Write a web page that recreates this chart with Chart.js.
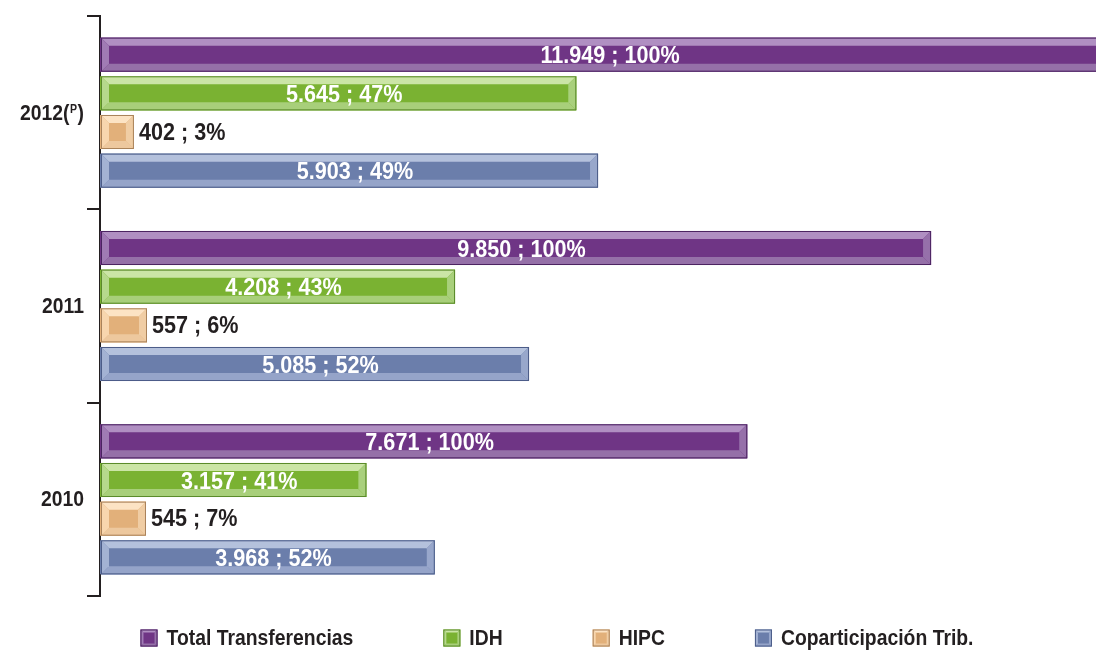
<!DOCTYPE html>
<html>
<head>
<meta charset="utf-8">
<script src="https://cdn.jsdelivr.net/npm/chart.js@4/dist/chart.umd.min.js"></script>
<style>
  html, body { margin: 0; padding: 0; background: #fff; }
  #wrap { width: 1096px; height: 651px; }
</style>
</head>
<body>
<div id="wrap"><canvas id="myChart" width="1096" height="651"></canvas></div>
<script>
const categories = ['2012(ᴾ)', '2011', '2010'];
const seriesNames = ['Total Transferencias', 'IDH', 'HIPC', 'Coparticipación Trib.'];
const totalTransferencias = [11949, 9850, 7671];
const idh = [5645, 4208, 3157];
const hipc = [402, 557, 545];
const coparticipacion = [5903, 5085, 3968];

const FONT = '"Liberation Sans", Arial, sans-serif';
const INK = '#231F20';

// bevel shades per series: face, top, left, bottom, right, edge
const shades = [
  { face: '#6F3585', top: '#B08FC2', left: '#A07BB4', bottom: '#9570A8', right: '#9670AA', edge: '#4B2361' },
  { face: '#7AB232', top: '#CBE5A6', left: '#B6D98C', bottom: '#A8CF7A', right: '#A9D07C', edge: '#5A8A2A' },
  { face: '#E2B07A', top: '#FCE3C4', left: '#F8D6AE', bottom: '#EDC89E', right: '#F0CDA4', edge: '#A9825A' },
  { face: '#6B7EAB', top: '#B4C1DC', left: '#A3B2D3', bottom: '#95A4C9', right: '#98A7CB', edge: '#4B5C88' },
];

const fmt = v => v.toLocaleString('de-DE');

// condensed look: draw text squeezed horizontally
function squeezed(ctx, s, x, y, align, sx) {
  ctx.save();
  ctx.translate(x, y);
  ctx.scale(sx, 1);
  ctx.textAlign = align;
  ctx.fillText(s, 0, 0);
  ctx.restore();
}

function poly(ctx, pts, color) {
  ctx.beginPath();
  ctx.moveTo(pts[0][0], pts[0][1]);
  for (let i = 1; i < pts.length; i++) ctx.lineTo(pts[i][0], pts[i][1]);
  ctx.closePath();
  ctx.fillStyle = color;
  ctx.fill();
}

function bevel(ctx, x0, y0, x1, y1, c, size) {
  const b = Math.min(size, (x1 - x0) / 2, (y1 - y0) / 2);
  ctx.fillStyle = c.face;
  ctx.fillRect(x0, y0, x1 - x0, y1 - y0);
  poly(ctx, [[x0, y0], [x1, y0], [x1 - b, y0 + b], [x0 + b, y0 + b]], c.top);
  poly(ctx, [[x0, y1], [x1, y1], [x1 - b, y1 - b], [x0 + b, y1 - b]], c.bottom);
  poly(ctx, [[x0, y0], [x0 + b, y0 + b], [x0 + b, y1 - b], [x0, y1]], c.left);
  poly(ctx, [[x1, y0], [x1 - b, y0 + b], [x1 - b, y1 - b], [x1, y1]], c.right);
  ctx.strokeStyle = c.edge;
  ctx.lineWidth = 1;
  ctx.strokeRect(x0 + 0.5, y0 + 0.5, x1 - x0 - 1, y1 - y0 - 1);
}

const bevelBars = {
  id: 'bevelBars',
  afterDatasetsDraw(chart) {
    const { ctx, chartArea } = chart;
    ctx.save();
    ctx.beginPath();
    ctx.rect(chartArea.left, chartArea.top - 2, chartArea.width, chartArea.height + 4);
    ctx.clip();
    chart.data.datasets.forEach((ds, di) => {
      chart.getDatasetMeta(di).data.forEach(bar => {
        const h = bar.height;
        bevel(ctx, bar.base + 1, bar.y - h / 2, bar.x, bar.y + h / 2, shades[di], 8);
      });
    });
    ctx.restore();

    // value labels
    ctx.save();
    ctx.font = 'bold 24px ' + FONT;
    ctx.textBaseline = 'middle';
    chart.data.datasets.forEach((ds, di) => {
      chart.getDatasetMeta(di).data.forEach((bar, i) => {
        const v = ds.data[i];
        const pct = Math.round(v / totalTransferencias[i] * 100);
        const text = fmt(v) + ' ; ' + pct + '%';
        if (di === 2) {
          ctx.fillStyle = INK;
          squeezed(ctx, text, bar.x + 5, bar.y + 1, 'left', 0.9);
        } else {
          ctx.fillStyle = '#FFFFFF';
          squeezed(ctx, text, (bar.base + bar.x) / 2 + 6, bar.y + 2, 'center', 0.9);
        }
      });
    });
    ctx.restore();
  },
  afterDraw(chart) {
    const { ctx } = chart;
    const yScale = chart.scales.y;
    const sx = 0.88;

    // category labels, with a small raised P
    ctx.save();
    ctx.textBaseline = 'middle';
    ctx.fillStyle = INK;
    categories.forEach((cat, i) => {
      const y = yScale.getPixelForTick(i) + 1;
      const parts = cat.split('ᴾ');
      ctx.font = 'bold 22px ' + FONT;
      const w0 = ctx.measureText(parts[0]).width * sx;
      const w1 = parts.length > 1 ? ctx.measureText(parts[1]).width * sx : 0;
      ctx.font = 'bold 12px ' + FONT;
      const pw = parts.length > 1 ? ctx.measureText('P').width * sx + 1 : 0;
      let x = 84 - w0 - pw - w1;
      ctx.font = 'bold 22px ' + FONT;
      squeezed(ctx, parts[0], x, y, 'left', sx);
      if (parts.length > 1) {
        ctx.font = 'bold 12px ' + FONT;
        squeezed(ctx, 'P', x + w0 + 0.5, y - 4, 'left', sx);
        ctx.font = 'bold 22px ' + FONT;
        squeezed(ctx, parts[1], x + w0 + pw, y, 'left', sx);
      }
    });
    ctx.restore();

    // legend row along the bottom
    ctx.save();
    ctx.font = 'bold 22px ' + FONT;
    ctx.textBaseline = 'middle';
    const box = 17, gapText = 9, gapItem = 90;
    const widths = seriesNames.map(n => box + gapText + ctx.measureText(n).width * sx);
    const total = widths.reduce((a, b) => a + b, 0) + gapItem * (widths.length - 1);
    let x = 557 - total / 2;
    const y = 638;
    seriesNames.forEach((n, i) => {
      bevel(ctx, x, y - box / 2, x + box, y + box / 2, shades[i], 3);
      ctx.fillStyle = INK;
      squeezed(ctx, n, x + box + gapText, y + 1, 'left', sx);
      x += widths[i] + gapItem;
    });
    ctx.restore();
  }
};

new Chart('myChart', {
  type: 'bar',
  data: {
    labels: categories,
    datasets: [
      { label: seriesNames[0], data: totalTransferencias, backgroundColor: shades[0].face },
      { label: seriesNames[1], data: idh, backgroundColor: shades[1].face },
      { label: seriesNames[2], data: hipc, backgroundColor: shades[2].face },
      { label: seriesNames[3], data: coparticipacion, backgroundColor: shades[3].face },
    ],
  },
  options: {
    indexAxis: 'y',
    responsive: false,
    animation: false,
    events: [],
    categoryPercentage: 0.8,
    barPercentage: 0.88,
    layout: { padding: { top: 16, bottom: 55, left: 0, right: 0 } },
    plugins: {
      legend: { display: false },
      tooltip: { enabled: false },
    },
    scales: {
      x: { display: false, min: 0, max: 11805 },
      y: {
        afterFit(scale) { scale.width = 100; },
        border: { display: true, color: INK, width: 2 },
        grid: {
          offset: true,
          drawOnChartArea: false,
          drawTicks: true,
          tickLength: 13,
          color: INK,
          lineWidth: 2,
        },
        ticks: {
          padding: 3,
          color: 'rgba(0,0,0,0)',
          font: { family: FONT, size: 18, weight: 'bold' },
        },
      },
    },
  },
  plugins: [bevelBars],
});
</script>
</body>
</html>
